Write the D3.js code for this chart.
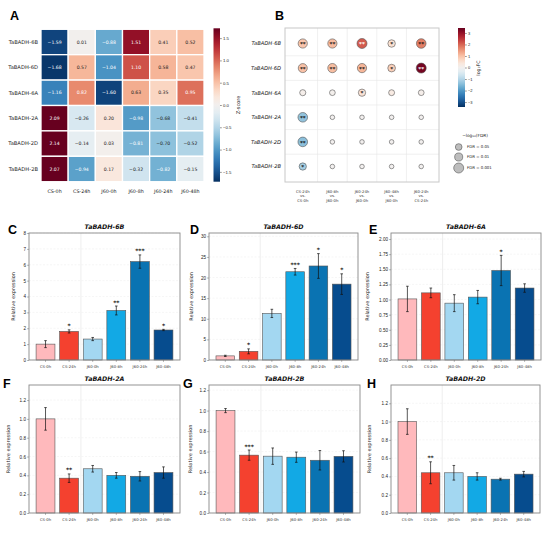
<!DOCTYPE html>
<html>
<head>
<meta charset="utf-8">
<script src="https://cdn.jsdelivr.net/npm/d3@7"></script>
<style>
  body { margin: 0; background: #fff; }
  svg { display: block; font-family: "DejaVu Sans", sans-serif; }
</style>
</head>
<body>
<div id="chart"></div>
<script>
// global const
const width = 550, height = 535;

// ---- data: heatmap (A) ----
const conditions = ["CS-0h", "CS-24h", "J60-0h", "J60-8h", "J60-24h", "J60-48h"];
const genes = ["TaBADH-6B", "TaBADH-6D", "TaBADH-6A", "TaBADH-2A", "TaBADH-2D", "TaBADH-2B"];
const zScores = [
  [-1.59, 0.01, -0.88, 1.51, 0.41, 0.52],
  [-1.68, 0.57, -1.04, 1.10, 0.58, 0.47],
  [-1.16, 0.82, -1.60, 0.63, 0.35, 0.95],
  [2.09, -0.26, 0.20, -0.98, -0.68, -0.41],
  [2.14, -0.14, 0.03, -0.81, -0.70, -0.52],
  [2.07, -0.94, 0.17, -0.32, -0.82, -0.15]
];
const zTicks = [1.5, 1.0, 0.5, 0.0, -0.5, -1.0, -1.5];

// ---- data: dot plot (B) ----
const comparisons = [
  ["CS-24h", "vs.", "CS-0h"],
  ["J60-8h", "vs.", "J60-0h"],
  ["J60-24h", "vs.", "J60-0h"],
  ["J60-48h", "vs.", "J60-0h"],
  ["J60-24h", "vs.", "CS-24h"]
];
const log2FC = [
  [0.95, 1.10, 2.10, 0.50, 1.75],
  [1.00, 1.05, 1.15, 0.80, 3.30],
  [0.10, 0.05, 0.45, 0.25, 0.10],
  [-1.35, 0.00, 0.00, 0.00, 0.00],
  [-1.40, 0.00, 0.00, 0.00, 0.00],
  [-1.15, 0.00, 0.00, 0.00, 0.00]
];
const negLog10FDR = [
  [2.6, 2.6, 3.0, 1.7, 2.8],
  [2.5, 2.6, 2.6, 1.8, 3.0],
  [1.0, 0.8, 1.6, 0.9, 0.8],
  [2.8, 0.2, 0.2, 0.2, 0.2],
  [2.8, 0.2, 0.2, 0.2, 0.2],
  [1.6, 0.2, 0.2, 0.2, 0.2]
];
const dotStars = [
  ["**", "**", "**", "*", "**"],
  ["**", "**", "**", "*", "**"],
  ["", "", "*", "", ""],
  ["**", "", "", "", ""],
  ["**", "", "", "", ""],
  ["*", "", "", "", ""]
];
const fcTicks = [3, 2, 1, 0, -1, -2, -3];
const fdrLevels = [0.05, 0.01, 0.001];

// ---- data: qPCR bars (C-H) ----
const panelLetters = ["C", "D", "E", "F", "G", "H"];
const barGenes = ["TaBADH-6B", "TaBADH-6D", "TaBADH-6A", "TaBADH-2A", "TaBADH-2B", "TaBADH-2D"];
const exprMean = [
  [1.00, 1.80, 1.32, 3.12, 6.20, 1.89],
  [1.00, 2.10, 11.3, 21.4, 22.8, 18.4],
  [1.01, 1.11, 0.94, 1.04, 1.48, 1.19],
  [1.00, 0.37, 0.47, 0.40, 0.39, 0.43],
  [1.00, 0.565, 0.555, 0.545, 0.515, 0.553],
  [1.00, 0.44, 0.44, 0.40, 0.37, 0.425]
];
const exprErr = [
  [0.22, 0.10, 0.10, 0.28, 0.42, 0.04],
  [0.15, 0.60, 1.00, 0.80, 3.00, 2.50],
  [0.21, 0.08, 0.14, 0.11, 0.25, 0.07],
  [0.12, 0.045, 0.035, 0.03, 0.05, 0.06],
  [0.02, 0.05, 0.08, 0.05, 0.095, 0.055],
  [0.14, 0.12, 0.08, 0.04, 0.01, 0.03]
];
const exprStars = [
  ["", "*", "", "**", "***", "*"],
  ["", "*", "", "***", "*", "*"],
  ["", "", "", "", "*", ""],
  ["", "**", "", "", "", ""],
  ["", "***", "", "", "", ""],
  ["", "**", "", "", "", ""]
];
const exprYMax = [8, 30.8, 2.1, 1.36, 1.25, 1.4];
const exprTicks = [
  [0, 1, 2, 3, 4, 5, 6, 7, 8],
  [0, 5, 10, 15, 20, 25, 30],
  [0, 0.25, 0.5, 0.75, 1.0, 1.25, 1.5, 1.75, 2.0],
  [0, 0.2, 0.4, 0.6, 0.8, 1.0, 1.2],
  [0, 0.2, 0.4, 0.6, 0.8, 1.0, 1.2],
  [0, 0.2, 0.4, 0.6, 0.8, 1.0, 1.2]
];
const exprTickFmt = ["d", "d", ".2f", ".1f", ".1f", ".1f"];

// styles / layout
const barColors = ["#ffb9bc", "#f4412f", "#a3d7f1", "#12a9e5", "#0a73b2", "#064c8e"];
const barBoxes = [
  { x0: 29, x1: 180, y0: 233, y1: 360, lx: 8, ly: 234, yl: 14 },
  { x0: 209, x1: 358, y0: 233, y1: 360, lx: 190, ly: 234, yl: 16 },
  { x0: 391, x1: 541, y0: 233, y1: 360, lx: 369, ly: 234, yl: 22 },
  { x0: 29, x1: 180, y0: 385, y1: 513, lx: 3, ly: 388, yl: 19 },
  { x0: 209, x1: 360, y0: 385, y1: 513, lx: 183, ly: 388, yl: 17 },
  { x0: 391, x1: 540, y0: 385, y1: 513, lx: 367, ly: 388, yl: 20 }
];

const svg = d3.select("#chart").append("svg")
  .attr("width", width)
  .attr("height", height);

const defs = svg.append("defs");

const letter = (x, y, t) => svg.append("text")
  .attr("x", x).attr("y", y)
  .attr("font-family", "Liberation Sans, Arial, sans-serif")
  .attr("font-weight", "bold")
  .attr("font-size", 12.5)
  .text(t);

const rdbu = t => d3.interpolateRdBu(1 - t);

function addGradient(id) {
  const g = defs.append("linearGradient")
    .attr("id", id)
    .attr("x1", 0).attr("y1", 1).attr("x2", 0).attr("y2", 0);
  d3.range(0, 1.0001, 0.05).forEach(t => {
    g.append("stop").attr("offset", t).attr("stop-color", rdbu(t));
  });
}
addGradient("grad-z");
addGradient("grad-fc");

// relative luminance like seaborn uses for annot colour
function lum(c) {
  const rgb = d3.rgb(c);
  const f = v => { v /= 255; return v <= 0.03928 ? v / 12.92 : Math.pow((v + 0.055) / 1.055, 2.4); };
  return 0.2126 * f(rgb.r) + 0.7152 * f(rgb.g) + 0.0722 * f(rgb.b);
}

// ================= A: heatmap =================
const drawHeatmap = () => {
  letter(10, 20, "A");

  const x = d3.scaleBand().domain(conditions).range([41, 204]);
  const y = d3.scaleBand().domain(genes).range([29.3, 181.7]);
  const color = d3.scaleDiverging(rdbu).domain([-1.72, 0, 1.72]).clamp(true);

  const g = svg.append("g");
  genes.forEach((gene, i) => {
    conditions.forEach((cond, j) => {
      const v = zScores[i][j];
      const fill = color(v);
      g.append("rect")
        .attr("x", x(cond)).attr("y", y(gene))
        .attr("width", x.bandwidth()).attr("height", y.bandwidth())
        .attr("fill", fill)
        .attr("stroke", "#fff")
        .attr("stroke-width", 1.3);
      g.append("text")
        .attr("x", x(cond) + x.bandwidth() / 2)
        .attr("y", y(gene) + y.bandwidth() / 2)
        .attr("dy", "0.35em")
        .attr("text-anchor", "middle")
        .attr("font-size", 4.6)
        .attr("fill", lum(fill) > 0.408 ? "#222" : "#fff")
        .text(d3.format(".2f")(v).replace("-", "\u2212"));
    });
  });

  // row labels
  genes.forEach(gene => {
    g.append("text")
      .attr("x", 38).attr("y", y(gene) + y.bandwidth() / 2)
      .attr("dy", "0.35em")
      .attr("text-anchor", "end")
      .attr("font-size", 5.2)
      .attr("fill", "#222")
      .text(gene);
  });
  // column labels
  conditions.forEach(cond => {
    g.append("text")
      .attr("x", x(cond) + x.bandwidth() / 2).attr("y", 193)
      .attr("text-anchor", "middle")
      .attr("font-size", 4.8)
      .attr("fill", "#222")
      .text(cond);
  });

  // colorbar
  const cy = d3.scaleLinear().domain([-1.72, 1.72]).range([181.7, 28.3]);
  g.append("rect")
    .attr("x", 213.5).attr("y", 28.3)
    .attr("width", 6.5).attr("height", 153.4)
    .attr("fill", "url(#grad-z)");
  const ax = g.append("g")
    .attr("transform", "translate(220,0)")
    .call(d3.axisRight(cy).tickValues(zTicks).tickSize(1.8).tickFormat(d => d3.format(".1f")(d).replace("-", "\u2212")));
  ax.select(".domain").remove();
  ax.selectAll("text").attr("font-size", 4.3).attr("fill", "#222").attr("x", 3);
  ax.selectAll("line").attr("stroke", "#333").attr("stroke-width", 0.5);
  g.append("text")
    .attr("transform", "translate(240,105) rotate(-90)")
    .attr("text-anchor", "middle")
    .attr("font-size", 5)
    .attr("fill", "#222")
    .text("Z-score");
};

// ================= B: dot plot =================
const drawDots = () => {
  letter(275, 20, "B");

  const colIds = d3.range(comparisons.length);
  const x = d3.scalePoint().domain(colIds).range([285, 439]).padding(0.6);
  const y = d3.scalePoint().domain(genes).range([28, 182]).padding(0.63);
  const color = d3.scaleDiverging(rdbu).domain([-3.43, 0, 3.43]).clamp(true);
  const r = d3.scaleLinear().domain([0, 3]).range([2.1, 5.0]);

  const g = svg.append("g");
  const stepX = x.step(), stepY = y.step();

  // grid at cell boundaries
  colIds.slice(1).forEach(c => {
    g.append("line")
      .attr("x1", x(c) - stepX / 2).attr("x2", x(c) - stepX / 2)
      .attr("y1", 28).attr("y2", 182)
      .attr("stroke", "#e6e6e6").attr("stroke-width", 0.6);
  });
  genes.slice(1).forEach(gn => {
    g.append("line")
      .attr("x1", 285).attr("x2", 439)
      .attr("y1", y(gn) - stepY / 2).attr("y2", y(gn) - stepY / 2)
      .attr("stroke", "#e6e6e6").attr("stroke-width", 0.6);
  });
  g.append("rect")
    .attr("x", 285).attr("y", 28).attr("width", 154).attr("height", 154)
    .attr("fill", "none").attr("stroke", "#c8c8c8").attr("stroke-width", 1);

  genes.forEach((gene, i) => {
    colIds.forEach(j => {
      const fc = log2FC[i][j];
      g.append("circle")
        .attr("cx", x(j)).attr("cy", y(gene))
        .attr("r", r(negLog10FDR[i][j]))
        .attr("fill", color(fc))
        .attr("stroke", "#555").attr("stroke-width", 0.6);
      if (dotStars[i][j]) {
        g.append("text")
          .attr("x", x(j)).attr("y", y(gene) + 2.6)
          .attr("text-anchor", "middle")
          .attr("font-size", 5.5)
          .attr("font-weight", "bold")
          .attr("fill", Math.abs(fc) > 1.8 ? "#fff" : "#111")
          .text(dotStars[i][j]);
      }
    });
    g.append("text")
      .attr("x", 281).attr("y", y(gene))
      .attr("dy", "0.35em")
      .attr("text-anchor", "end")
      .attr("font-size", 5.2)
      .attr("font-style", "italic")
      .attr("fill", "#222")
      .text(gene);
  });

  // x labels (three lines)
  comparisons.forEach((lines, j) => {
    lines.forEach((t, k) => {
      g.append("text")
        .attr("x", x(j)).attr("y", 193 + k * 4.3)
        .attr("text-anchor", "middle")
        .attr("font-size", 3.8)
        .attr("fill", "#333")
        .text(t);
    });
  });

  // colorbar
  const cy = d3.scaleLinear().domain([-3.43, 3.43]).range([107, 28]);
  g.append("rect")
    .attr("x", 458).attr("y", 28).attr("width", 7).attr("height", 79)
    .attr("fill", "url(#grad-fc)");
  const ax = g.append("g")
    .attr("transform", "translate(465,0)")
    .call(d3.axisRight(cy).tickValues(fcTicks).tickSize(1.8).tickFormat(d => String(d).replace("-", "\u2212")));
  ax.select(".domain").remove();
  ax.selectAll("text").attr("font-size", 4).attr("fill", "#222").attr("x", 3);
  ax.selectAll("line").attr("stroke", "#333").attr("stroke-width", 0.5);
  g.append("text")
    .attr("transform", "translate(480,68) rotate(-90)")
    .attr("text-anchor", "middle")
    .attr("font-size", 4.8)
    .attr("fill", "#222")
    .text("log\u2082FC");

  // size legend
  g.append("text")
    .attr("x", 475).attr("y", 137)
    .attr("text-anchor", "middle")
    .attr("font-size", 4.3)
    .attr("fill", "#222")
    .text("\u2212log\u2081\u2080(FDR)");
  const legY = [147, 157, 168];
  fdrLevels.forEach((f, k) => {
    g.append("circle")
      .attr("cx", 458.7).attr("cy", legY[k])
      .attr("r", r(-Math.log10(f)))
      .attr("fill", "#bdbdbd")
      .attr("stroke", "#555").attr("stroke-width", 0.6);
    g.append("text")
      .attr("x", 467).attr("y", legY[k])
      .attr("dy", "0.35em")
      .attr("font-size", 3.9)
      .attr("fill", "#222")
      .text("FDR = " + f);
  });
};

// ================= C-H: bar panels =================
const drawBars = (p) => {
  const box = barBoxes[p];
  letter(box.lx, box.ly, panelLetters[p]);

  const x = d3.scaleBand().domain(conditions)
    .range([box.x0, box.x1]).paddingInner(0.2).paddingOuter(0.3);
  const y = d3.scaleLinear().domain([0, exprYMax[p]]).range([box.y1, box.y0]);
  const g = svg.append("g");

  // faint grid
  exprTicks[p].forEach(t => {
    g.append("line")
      .attr("x1", box.x0).attr("x2", box.x1)
      .attr("y1", y(t)).attr("y2", y(t))
      .attr("stroke", "#ececec").attr("stroke-width", 0.5)
      .attr("stroke-dasharray", "2,1.5");
  });
  // separator between CS and J60 groups
  const sepX = x("J60-0h") - x.step() * x.paddingInner() / 2;
  g.append("line")
    .attr("x1", sepX).attr("x2", sepX)
    .attr("y1", box.y0).attr("y2", box.y1)
    .attr("stroke", "#e2e2e2").attr("stroke-width", 0.6);

  conditions.forEach((c, i) => {
    const m = exprMean[p][i], e = exprErr[p][i];
    const cx = x(c) + x.bandwidth() / 2;
    g.append("rect")
      .attr("x", x(c)).attr("y", y(m))
      .attr("width", x.bandwidth()).attr("height", y(0) - y(m))
      .attr("fill", barColors[i])
      .attr("stroke", "#555").attr("stroke-width", 0.6);
    // error bar
    g.append("line")
      .attr("x1", cx).attr("x2", cx)
      .attr("y1", y(m - e)).attr("y2", y(m + e))
      .attr("stroke", "#111").attr("stroke-width", 0.7);
    [m - e, m + e].forEach(v => {
      g.append("line")
        .attr("x1", cx - 1.3).attr("x2", cx + 1.3)
        .attr("y1", y(v)).attr("y2", y(v))
        .attr("stroke", "#111").attr("stroke-width", 0.7);
    });
    if (exprStars[p][i]) {
      g.append("text")
        .attr("x", cx).attr("y", y(m + e) - 1.5)
        .attr("text-anchor", "middle")
        .attr("font-size", 6)
        .attr("font-weight", "bold")
        .attr("fill", "#111")
        .text(exprStars[p][i]);
    }
    // x tick
    g.append("line")
      .attr("x1", cx).attr("x2", cx)
      .attr("y1", box.y1).attr("y2", box.y1 + 1.8)
      .attr("stroke", "#555").attr("stroke-width", 0.5);
    g.append("text")
      .attr("x", cx).attr("y", box.y1 + 8)
      .attr("text-anchor", "middle")
      .attr("font-size", 3.8)
      .attr("fill", "#333")
      .text(c);
  });

  // y axis
  const ax = g.append("g")
    .attr("transform", `translate(${box.x0},0)`)
    .call(d3.axisLeft(y).tickValues(exprTicks[p]).tickSize(1.8).tickFormat(d3.format(exprTickFmt[p])));
  ax.select(".domain").remove();
  ax.selectAll("text").attr("font-size", 4.6).attr("fill", "#222").attr("x", -3);
  ax.selectAll("line").attr("stroke", "#555").attr("stroke-width", 0.5);

  // frame
  g.append("rect")
    .attr("x", box.x0).attr("y", box.y0)
    .attr("width", box.x1 - box.x0).attr("height", box.y1 - box.y0)
    .attr("fill", "none").attr("stroke", "#888").attr("stroke-width", 0.9);

  // title
  g.append("text")
    .attr("x", (box.x0 + box.x1) / 2).attr("y", box.y0 - 4)
    .attr("text-anchor", "middle")
    .attr("font-size", 6.3)
    .attr("font-weight", "bold")
    .attr("font-style", "italic")
    .attr("fill", "#111")
    .text(barGenes[p]);

  // y label
  g.append("text")
    .attr("transform", `translate(${box.x0 - box.yl},${(box.y0 + box.y1) / 2}) rotate(-90)`)
    .attr("text-anchor", "middle")
    .attr("font-size", 5)
    .attr("fill", "#222")
    .text("Relative expression");
};

drawHeatmap();
drawDots();
panelLetters.forEach((_, p) => drawBars(p));
</script>
</body>
</html>
